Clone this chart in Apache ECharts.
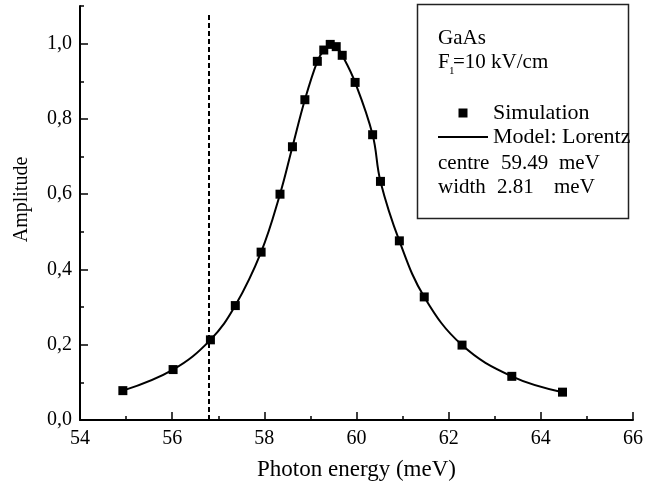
<!DOCTYPE html>
<html>
<head>
<meta charset="utf-8">
<script src="https://cdn.jsdelivr.net/npm/echarts@6/dist/echarts.min.js"></script>
<style>
  html, body { margin: 0; padding: 0; background: #fff; }
  #chart { width: 646px; height: 486px; }
</style>
</head>
<body>
<div id="chart"></div>
<script>
// values
const simEnergy = [54.93, 56.02, 56.83, 57.37, 57.93, 58.34, 58.61, 58.88, 59.15, 59.29, 59.43,
  59.56, 59.69, 59.97, 60.35, 60.52, 60.93, 61.47, 62.29, 63.37, 64.47];
const simAmplitude = [0.078, 0.134, 0.213, 0.304, 0.446, 0.600, 0.726, 0.851, 0.953, 0.983, 0.998,
  0.992, 0.969, 0.897, 0.758, 0.634, 0.476, 0.327, 0.199, 0.116, 0.074];
const yMajorTicks = [0, 0.2, 0.4, 0.6, 0.8, 1.0];
const yMinorTicks = [0.1, 0.3, 0.5, 0.7, 0.9, 1.1];
const cutoffEnergy = 56.79; // dashed vertical line
const cutoffTop = 1.084;
const fitCentre = "59.49";
const fitWidth = "2.81";

const FONT = '"Liberation Serif", "Times New Roman", serif';
const points = simEnergy.map((x, i) => [x, simAmplitude[i]]);

const chart = echarts.init(document.getElementById("chart"));

function boxText(text, x, y, size) {
  return {
    type: "text",
    x: x,
    y: y,
    silent: true,
    style: {
      text: text,
      fill: "#000",
      fontFamily: FONT,
      fontSize: size || 21,
      verticalAlign: "middle",
    },
  };
}

const option = {
  animation: false,
  grid: { left: 80, right: 11, top: 6, bottom: 64 },
  xAxis: {
    type: "value",
    min: 54,
    max: 66,
    interval: 2,
    axisLine: { onZero: false, lineStyle: { color: "#000", width: 2 } },
    axisTick: { inside: true, length: 8, lineStyle: { color: "#000", width: 1.5 } },
    minorTick: { show: true, splitNumber: 2, length: 4, lineStyle: { color: "#000", width: 1.5 } },
    splitLine: { show: false },
    axisLabel: { color: "#000", fontFamily: FONT, fontSize: 20, margin: 9 },
    name: "Photon energy (meV)",
    nameLocation: "middle",
    nameGap: 38,
    nameTextStyle: { color: "#000", fontFamily: FONT, fontSize: 23 },
  },
  yAxis: [
    {
      type: "value",
      min: 0,
      max: 1.1,
      axisLine: { show: true, lineStyle: { color: "#000", width: 2 } },
      axisTick: {
        show: true,
        inside: true,
        length: 8,
        customValues: yMajorTicks,
        lineStyle: { color: "#000", width: 1.5 },
      },
      splitLine: { show: false },
      axisLabel: {
        color: "#000",
        fontFamily: FONT,
        fontSize: 20,
        margin: 8,
        customValues: yMajorTicks,
        formatter: (v) => v.toFixed(1).replace(".", ","),
      },
      name: "Amplitude",
      nameLocation: "middle",
      nameGap: 48,
      nameTextStyle: { color: "#000", fontFamily: FONT, fontSize: 20, padding: [0, 0, 0, 27] },
    },
    {
      // short minor ticks
      type: "value",
      min: 0,
      max: 1.1,
      position: "left",
      axisLine: { show: false },
      axisTick: {
        show: true,
        inside: true,
        length: 4,
        customValues: yMinorTicks,
        lineStyle: { color: "#000", width: 1.5 },
      },
      axisLabel: { show: false },
      splitLine: { show: false },
    },
  ],
  legend: {
    orient: "vertical",
    left: 438,
    top: 102,
    padding: 0,
    itemWidth: 50,
    itemHeight: 9,
    itemGap: 2,
    selectedMode: false,
    textStyle: { color: "#000", fontFamily: FONT, fontSize: 22 },
    data: [
      { name: "Simulation", icon: "path://M0,0H10V10H0Z" },
      { name: "Model: Lorentz", icon: "path://M0,4H50V6H0Z" },
    ],
  },
  graphic: [
    {
      type: "rect",
      silent: true,
      shape: { x: 417.5, y: 4.5, width: 211, height: 214 },
      style: { fill: "#fff", stroke: "#222", lineWidth: 1.5 },
      z: -1,
    },
    boxText("GaAs", 438, 38),
    boxText("F", 438, 62),
    boxText("1", 449, 71.5, 11),
    boxText("=10 kV/cm", 453, 62),
    boxText("centre", 438, 163),
    boxText(fitCentre, 501, 163),
    boxText("meV", 559, 163),
    boxText("width", 438, 187),
    boxText(fitWidth, 497, 187),
    boxText("meV", 554, 187),
  ],
  series: [
    {
      type: "line",
      name: "Model: Lorentz",
      data: points,
      smooth: 0.4,
      symbol: "none",
      lineStyle: { color: "#000", width: 2 },
      itemStyle: { color: "#000" },
      z: 2,
    },
    {
      type: "scatter",
      name: "Simulation",
      data: points,
      symbol: "rect",
      symbolSize: 9,
      itemStyle: { color: "#000", opacity: 1 },
      z: 3,
      markLine: {
        silent: true,
        symbol: "none",
        label: { show: false },
        lineStyle: { color: "#000", width: 2, type: [5, 3] },
        data: [[{ coord: [cutoffEnergy, 0] }, { coord: [cutoffEnergy, cutoffTop] }]],
      },
    },
  ],
};

chart.setOption(option);
</script>
</body>
</html>
